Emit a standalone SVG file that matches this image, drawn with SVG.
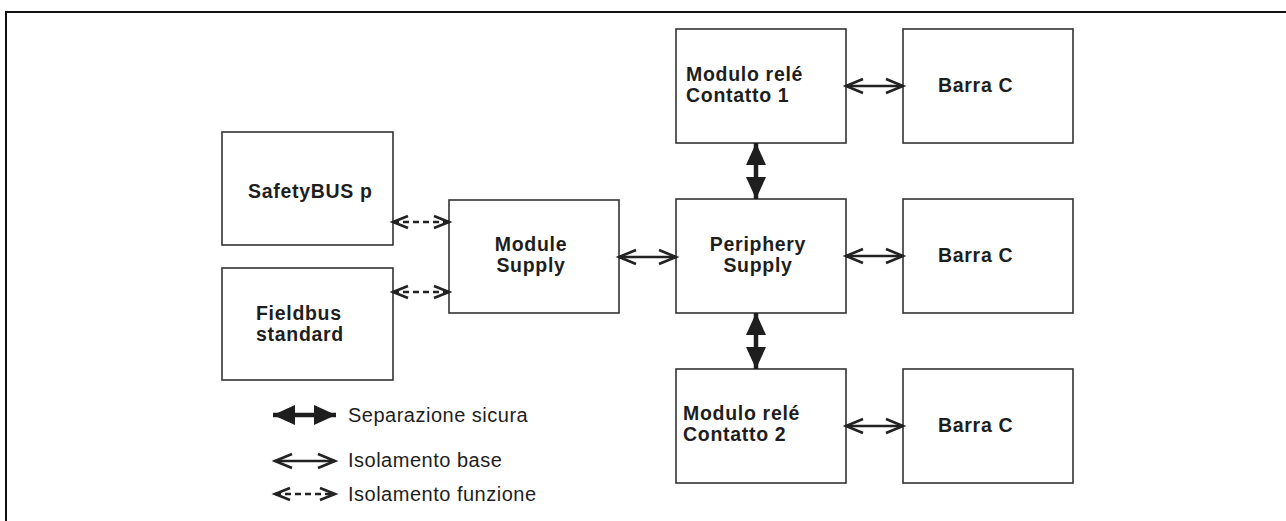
<svg xmlns="http://www.w3.org/2000/svg" width="1286" height="521" viewBox="0 0 1286 521">
<style>
.box{fill:#fff;stroke:#333;stroke-width:1.6}
.lbl{font-family:"Liberation Sans",Arial,sans-serif;font-weight:bold;font-size:19.5px;fill:#1e1e1e;letter-spacing:0.7px}
.leg{font-family:"Liberation Sans",Arial,sans-serif;font-size:20px;fill:#1e1e1e;letter-spacing:0.5px}
.thin{stroke:#222;stroke-width:2.4;fill:none}
.dash{stroke:#222;stroke-width:2.4;fill:none;stroke-dasharray:6 4}
.thick{stroke:#1e1e1e;stroke-width:4.5;fill:none}
</style>
<defs>
<marker id="chev" markerUnits="userSpaceOnUse" markerWidth="24" markerHeight="20" viewBox="0 0 24 20" refX="18" refY="8" orient="auto-start-reverse" overflow="visible">
<path d="M1,1 L18,8 L1,15" fill="none" stroke="#222" stroke-width="2.6"/>
</marker>
<marker id="chevd" markerUnits="userSpaceOnUse" markerWidth="24" markerHeight="20" viewBox="0 0 24 20" refX="16" refY="7" orient="auto-start-reverse" overflow="visible">
<path d="M1,1 L16,7 L1,13" fill="none" stroke="#222" stroke-width="2.6"/>
</marker>
<marker id="tri" markerUnits="userSpaceOnUse" markerWidth="26" markerHeight="22" viewBox="0 0 26 22" refX="22" refY="10" orient="auto-start-reverse" overflow="visible">
<path d="M0,0 L22,10 L0,20 Z" fill="#1e1e1e"/>
</marker>
</defs>

<g id="frame">
<line x1="6" y1="12" x2="1286" y2="12" stroke="#111" stroke-width="2"/>
<line x1="6" y1="11" x2="6" y2="521" stroke="#111" stroke-width="2"/>
</g>

<g id="safetybus"><rect class="box" x="222" y="132" width="171" height="113"/><text class="lbl" x="248" y="198">SafetyBUS p</text></g>
<g id="fieldbus"><rect class="box" x="222" y="268" width="171" height="112"/><text class="lbl" x="256" y="320">Fieldbus</text><text class="lbl" x="256" y="341">standard</text></g>
<g id="module-supply"><rect class="box" x="449" y="200" width="170" height="113"/><text class="lbl" x="531" y="251" text-anchor="middle">Module</text><text class="lbl" x="531" y="272" text-anchor="middle">Supply</text></g>
<g id="periphery-supply"><rect class="box" x="676" y="199" width="170" height="114"/><text class="lbl" x="758" y="251" text-anchor="middle">Periphery</text><text class="lbl" x="758" y="272" text-anchor="middle">Supply</text></g>
<g id="rele1"><rect class="box" x="676" y="29" width="170" height="114"/><text class="lbl" x="686" y="81">Modulo relé</text><text class="lbl" x="686" y="102">Contatto 1</text></g>
<g id="rele2"><rect class="box" x="676" y="369" width="170" height="114"/><text class="lbl" x="683" y="420">Modulo relé</text><text class="lbl" x="683" y="441">Contatto 2</text></g>
<g id="barra1"><rect class="box" x="903" y="29" width="170" height="114"/><text class="lbl" x="938" y="92">Barra C</text></g>
<g id="barra2"><rect class="box" x="903" y="199" width="170" height="114"/><text class="lbl" x="938" y="262">Barra C</text></g>
<g id="barra3"><rect class="box" x="903" y="369" width="170" height="114"/><text class="lbl" x="938" y="432">Barra C</text></g>

<g id="connectors">
<line class="dash" x1="393" y1="222" x2="449" y2="222" marker-start="url(#chevd)" marker-end="url(#chevd)"/>
<line class="dash" x1="393" y1="292" x2="449" y2="292" marker-start="url(#chevd)" marker-end="url(#chevd)"/>
<line class="thin" x1="619" y1="257" x2="676" y2="257" marker-start="url(#chev)" marker-end="url(#chev)"/>
<line class="thin" x1="846" y1="86" x2="903" y2="86" marker-start="url(#chev)" marker-end="url(#chev)"/>
<line class="thin" x1="846" y1="256" x2="903" y2="256" marker-start="url(#chev)" marker-end="url(#chev)"/>
<line class="thin" x1="846" y1="426" x2="903" y2="426" marker-start="url(#chev)" marker-end="url(#chev)"/>
<line class="thick" x1="756" y1="143" x2="756" y2="199" marker-start="url(#tri)" marker-end="url(#tri)"/>
<line class="thick" x1="756" y1="313" x2="756" y2="369" marker-start="url(#tri)" marker-end="url(#tri)"/>
</g>

<g id="legend">
<line class="thick" x1="273" y1="415" x2="336" y2="415" marker-start="url(#tri)" marker-end="url(#tri)"/>
<text class="leg" x="348" y="422">Separazione sicura</text>
<line class="thin" x1="275" y1="461" x2="335" y2="461" marker-start="url(#chev)" marker-end="url(#chev)"/>
<text class="leg" x="348" y="467">Isolamento base</text>
<line class="dash" x1="275" y1="494" x2="335" y2="494" marker-start="url(#chevd)" marker-end="url(#chevd)"/>
<text class="leg" x="348" y="501">Isolamento funzione</text>
</g>
</svg>
